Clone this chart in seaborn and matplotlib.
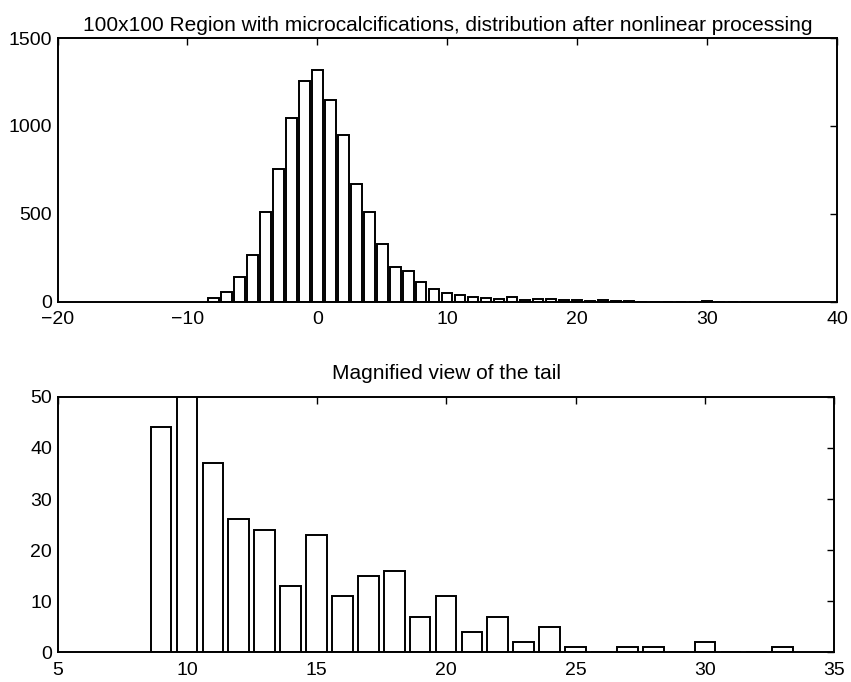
import numpy as np
import pandas as pd
import matplotlib
matplotlib.use("Agg")
import matplotlib.pyplot as plt
import seaborn as sns

# Histogram of the processed region (bin centres and counts)
bin_centers = [-8, -7, -6, -5, -4, -3, -2, -1, 0, 1, 2, 3, 4, 5, 6, 7, 8, 9,
               10, 11, 12, 13, 14, 15, 16, 17, 18, 19, 20, 21, 22, 23, 24,
               25, 27, 28, 30, 33]
bin_counts = [22, 57, 141, 268, 512, 756, 1044, 1255, 1318, 1149, 950, 671,
              512, 329, 199, 172, 112, 74, 48, 39, 25, 23, 14, 25, 12, 15,
              16, 8, 11, 5, 7, 2, 5, 1, 1, 1, 2, 1]

# Tail of the distribution, shown magnified
tail_centers = [9, 10, 11, 12, 13, 14, 15, 16, 17, 18, 19, 20, 21, 22, 23,
                24, 25, 27, 28, 30, 33]
tail_counts = [44, 60, 37, 26, 24, 13, 23, 11, 15, 16, 7, 11, 4, 7, 2, 5, 1,
               1, 1, 2, 1]

top_title = "100x100 Region with microcalcifications, distribution after nonlinear processing"
bottom_title = "Magnified view of the tail"

sns.set_theme(style="white")
plt.rcParams["font.family"] = ["Liberation Sans", "DejaVu Sans"]
plt.rcParams["text.color"] = "black"
plt.rcParams["axes.titlecolor"] = "black"
plt.rcParams["axes.linewidth"] = 1.4
plt.rcParams["xtick.direction"] = "in"
plt.rcParams["ytick.direction"] = "in"

fig = plt.figure(figsize=(8.51, 6.82), dpi=100)
fig.patch.set_facecolor("white")
ax1 = fig.add_axes([0.0676, 0.5576, 0.916, 0.3866])
ax2 = fig.add_axes([0.0676, 0.0433, 0.913, 0.3750])

full = pd.DataFrame({"x": bin_centers, "n": bin_counts})
tail = pd.DataFrame({"x": tail_centers, "n": tail_counts})

bar_kw = dict(discrete=True, shrink=0.8, color="white", edgecolor="black",
              linewidth=1.4, alpha=1.0)
sns.histplot(data=full, x="x", weights="n", ax=ax1, **bar_kw)
sns.histplot(data=tail, x="x", weights="n", ax=ax2, **bar_kw)

ax1.set_xlim(-20, 40)
ax1.set_ylim(0, 1500)
ax1.set_xticks([-20, -10, 0, 10, 20, 30, 40])
ax1.set_yticks([0, 500, 1000, 1500])
ax1.set_title(top_title, fontsize=15, pad=5, color="black")

ax2.set_xlim(5, 35)
ax2.set_ylim(0, 50)
ax2.set_xticks([5, 10, 15, 20, 25, 30, 35])
ax2.set_yticks([0, 10, 20, 30, 40, 50])
ax2.set_title(bottom_title, fontsize=15, pad=13, color="black")

for ax in (ax1, ax2):
    ax.set_xlabel("")
    ax.set_ylabel("")
    for s in ax.spines.values():
        s.set_color("black")
        s.set_linewidth(1.4)
    ax.tick_params(axis="both", which="both", direction="in", length=5,
                   width=1.0, color="black", top=True, right=True,
                   labelsize=14, labelcolor="black")
    ax.tick_params(axis="x", pad=7)
    ax.tick_params(axis="y", pad=4)

fig.savefig("out.png", dpi=100, facecolor="white")
